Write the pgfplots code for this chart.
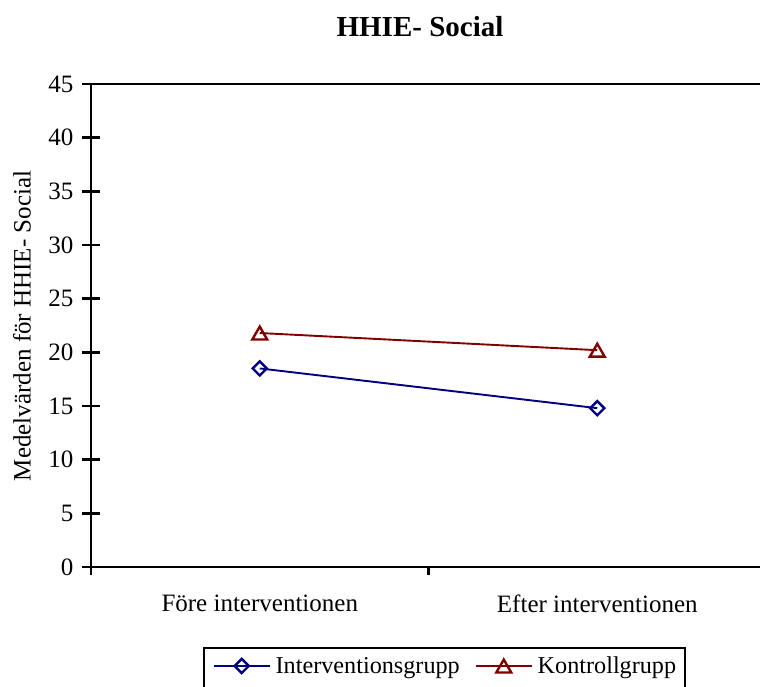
\documentclass[border=0pt]{standalone}
\usepackage{pgfplots}
\pgfplotsset{compat=1.18}
\usepackage{fontspec}
\setmainfont{Liberation Serif}
\definecolor{navyc}{RGB}{0,0,128}
\definecolor{maroonc}{RGB}{128,0,0}
\begin{document}
\begin{tikzpicture}
\useasboundingbox (0,0) rectangle (380pt,343pt);
\node[font=\fontsize{14.5}{17}\selectfont\bfseries, anchor=base] at (210pt,324.5pt) {HHIE- Social};
\begin{axis}[
  at={(45.5pt,59.5pt)}, anchor=south west,
  scale only axis, width=337.5pt, height=241.5pt,
  xmin=-0.5, xmax=1.5, ymin=0, ymax=45,
  axis line style={line width=1.2pt},
  every tick/.style={black, line width=1.2pt},
  tick align=center, major tick length=8.5pt, minor tick length=4pt,
  xtick={0,1},
  xticklabels={Före interventionen, Efter interventionen},
  major x tick style={draw=none},
  minor xtick={-0.5,0.5,1.5},
  minor x tick style={yshift=-2pt},
  xticklabel style={yshift=-6pt},
  ytick={0,5,...,45},
  xtick pos=bottom, ytick pos=left,
  /pgf/number format/assume math mode=true,
  tick label style={font=\fontsize{12.5}{15}\selectfont},
  yticklabel style={xshift=-1pt},
  ylabel={Medelvärden för HHIE- Social},
  every axis y label/.style={at={(rel axis cs:-0.1022,0.499)}, rotate=90, anchor=center, font=\fontsize{12.5}{15}\selectfont},
  legend columns=2,
  legend style={at={(rel axis cs:0.1659,-0.1656)}, anchor=north west,
    draw=black, line width=0.8pt, inner xsep=4.5pt, inner ysep=4.5pt,
    nodes={inner sep=0pt, font=\fontsize{12.1}{15}\selectfont},
    /tikz/every odd column/.style={column sep=2.5pt},
    /tikz/every even column/.style={column sep=7.5pt, nodes={text depth=8pt}}},
  legend image code/.code={\begin{scope}[yshift=3.6pt]\draw[mark repeat=2,mark phase=2,#1] plot coordinates {(0pt,0pt) (14pt,0pt) (28pt,0pt)};\end{scope}},
]
\addplot[navyc, line width=0.95pt, mark=square, mark size=2.5pt, mark options={solid, fill=white, rotate=45, line width=1.2pt}]
  coordinates {(0,18.5) (1,14.8)};
\addlegendentry{Interventionsgrupp}
\addplot[maroonc, line width=0.95pt, mark=triangle, mark size=4.3pt, mark options={solid, fill=white, line width=1.2pt, yshift=-1.1pt}]
  coordinates {(0,21.8) (1,20.2)};
\addlegendentry{Kontrollgrupp}
\end{axis}
\end{tikzpicture}
\end{document}
